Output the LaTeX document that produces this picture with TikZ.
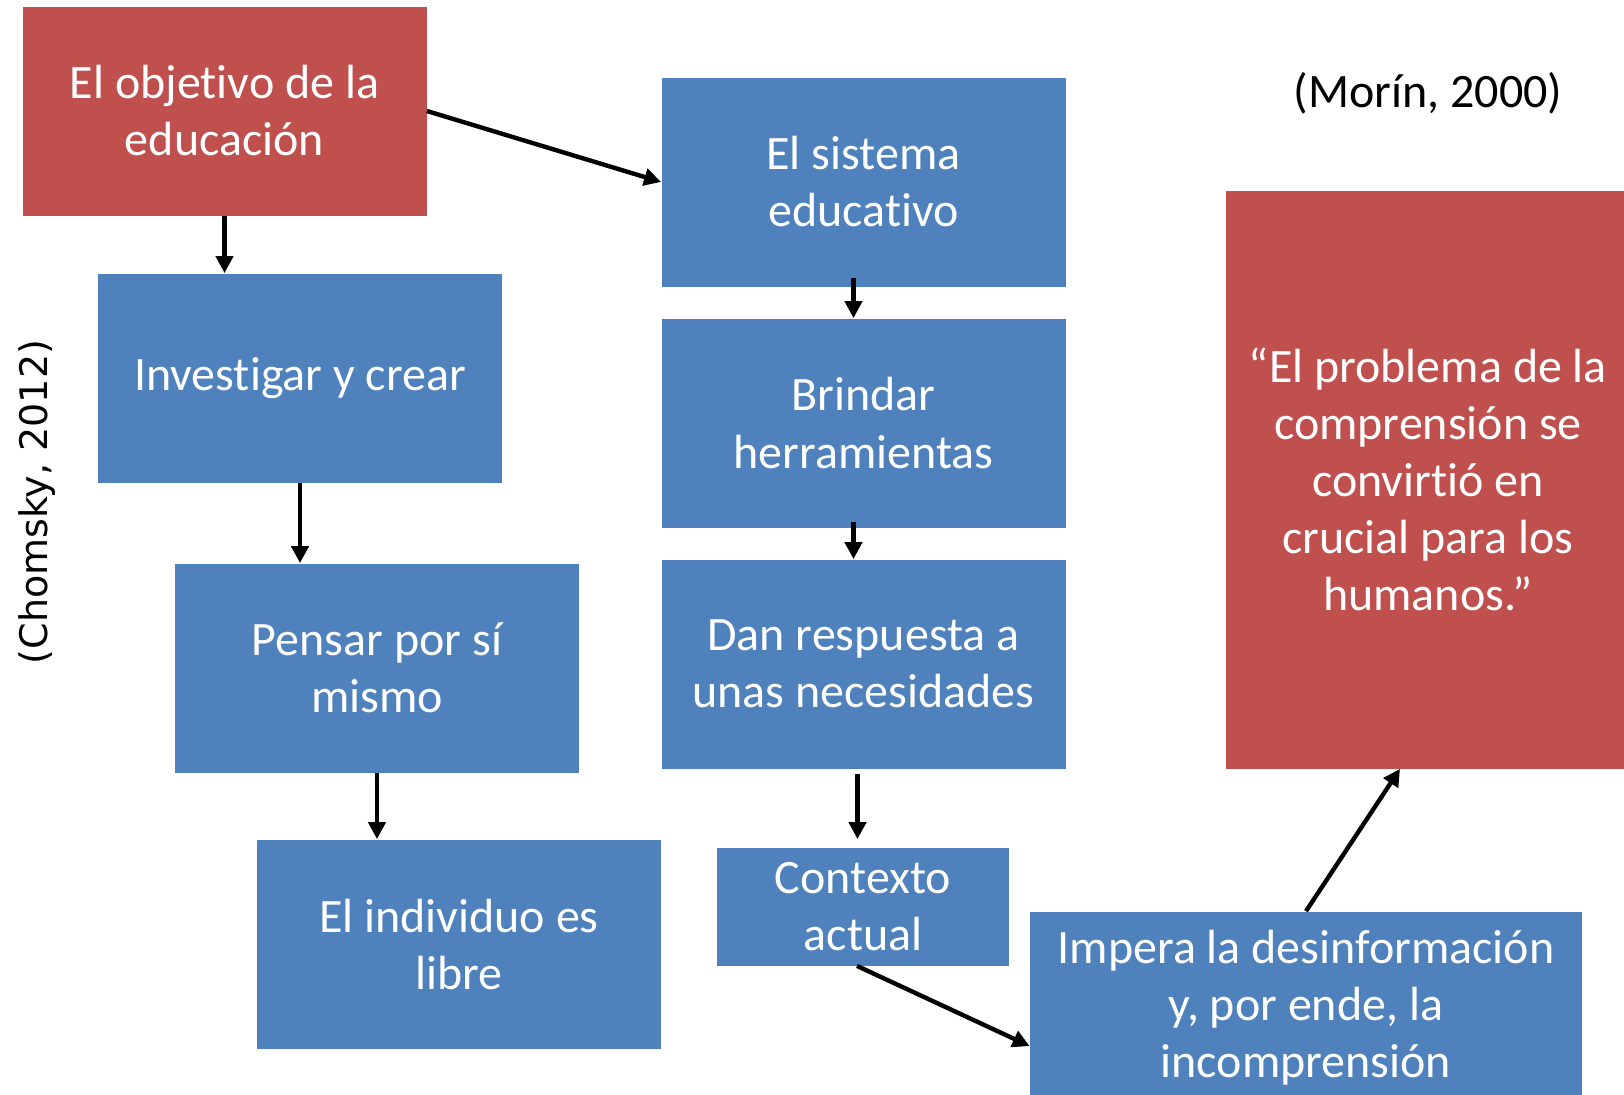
\documentclass[tikz,border=0pt]{standalone}
\usepackage{fontspec}
\setmainfont{Carlito}[RawFeature={-liga;-clig;-calt}]
\newfontfamily\quellefont{DejaVu Sans}
\usetikzlibrary{arrows.meta,calc}

\definecolor{rot}{HTML}{C0504D}
\definecolor{blau}{HTML}{4F81BD}

\tikzset{
  kasten/.style={fill=blau, text=white, align=center, inner sep=0pt,
    minimum width=202pt, minimum height=104.5pt,
    font=\fontsize{24}{28.5}\selectfont},
  rotkasten/.style={kasten, fill=rot},
  pfeil/.style={-{Triangle[length=8.5pt,width=8.5pt]}, line width=2.2pt}
}

\begin{document}
\begin{tikzpicture}[x=0.5pt,y=-0.5pt]
\useasboundingbox (0,0) rectangle (1624,1094);

%linke Spalte
\node[rotkasten] (objetivo) at (224.5,111) {El objetivo de la\\educación};
\node[kasten] (investigar) at (300,378) {Investigar y crear};
\node[kasten] (pensar) at (377,668) {Pensar por sí\\mismo};
\node[kasten] (individuo) at (459,944) {El individuo es\\libre};

%mittlere Spalte
\node[kasten] (sistema) at (863.5,182) {El sistema\\educativo};
\node[kasten] (brindar) at (863.5,423) {Brindar\\herramientas};
\node[kasten] (respuesta) at (863.5,664) {Dan respuesta a\\unas necesidades};
\node[kasten, minimum width=146pt, minimum height=59pt] (contexto) at (863,906.5) {Contexto\\actual};

%rechts
\node[kasten, minimum width=276pt, minimum height=96pt] (impera) at (1306,1007.5)
  {Impera la desinformación\\y, por ende, la\\incomprensión};
\node[rotkasten, minimum height=289pt] (problema) at (1428,479.5)
  {“El problema de la\\comprensión se\\convirtió en\\crucial para los\\humanos.”};

%Quellen
\node[font=\fontsize{24}{28.5}\selectfont] (morin) at (1428,93) {(Morín, 2000)};
\node[font=\quellefont\fontsize{19}{22}\selectfont, rotate=90] (chomsky) at (37,502) {(Chomsky, 2012)};

\path [pfeil]
(objetivo.east) edge (sistema.west)
(objetivo.south) edge (objetivo.south |- investigar.north)
(investigar.south) edge (investigar.south |- pensar.north)
(pensar.south) edge (pensar.south |- individuo.north)
([xshift=-5pt,yshift=4.5pt]sistema.south) edge ([xshift=-5pt]sistema.south |- brindar.north)
([xshift=-5pt,yshift=3pt]brindar.south) edge ([xshift=-5pt]brindar.south |- respuesta.north)
([xshift=-3pt]respuesta.south) edge[shorten <=2.5pt, shorten >=4pt] ([xshift=-3pt]respuesta.south |- contexto.north)
([xshift=-3pt]contexto.south) edge ($(impera.north west)!0.7!(impera.south west)$)
(impera.north) edge ([xshift=-14pt]problema.south)
;
\end{tikzpicture}
\end{document}
